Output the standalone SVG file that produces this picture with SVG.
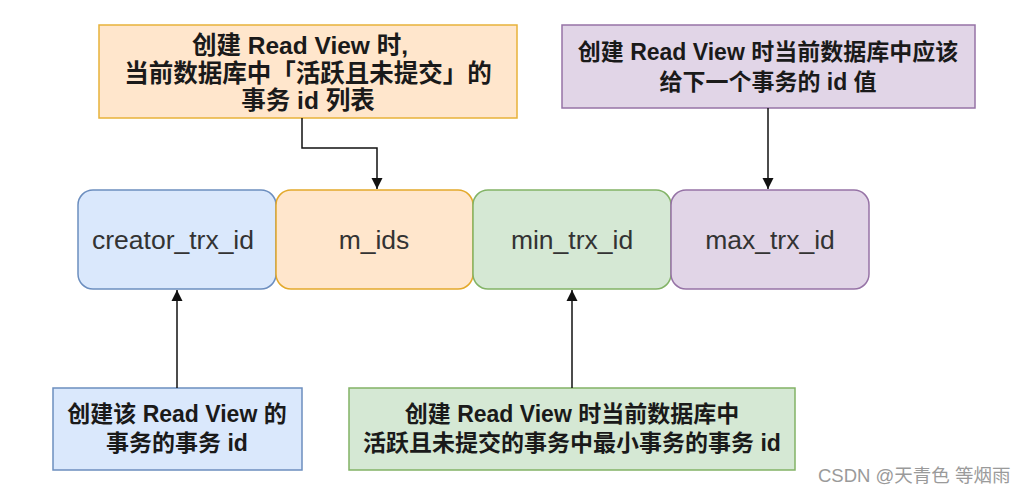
<svg xmlns="http://www.w3.org/2000/svg" width="1030" height="493" viewBox="0 0 1030 493">
<defs>
<style>
.lbl{font-family:"Liberation Sans",Arial,sans-serif;font-size:26.5px;fill:#333;text-anchor:middle}
.note{font-family:"Liberation Sans","Noto Sans CJK SC",sans-serif;font-size:23px;font-weight:bold;fill:#1a1a1a;text-anchor:middle}
.big{font-size:24.5px}
.edge{fill:none;stroke:#111;stroke-width:1.5}
.wm{font-family:"Liberation Sans","Noto Sans CJK SC",sans-serif;font-size:18.5px;fill:#9a9a9a}
</style>
<marker id="arr" markerUnits="userSpaceOnUse" markerWidth="12" markerHeight="12" viewBox="0 0 12 12" refX="11" refY="6" orient="auto">
<path d="M0,0.5 L11,6 L0,11.5 Z" fill="#111"/>
</marker>
</defs>
<rect width="1030" height="493" fill="#fff"/>

<g id="creator">
<rect x="78" y="190" width="198" height="99" rx="15" fill="#dae8fc" stroke="#6c8ebf" stroke-width="1.5"/>
<text class="lbl" x="173" y="249">creator_trx_id</text>
</g>
<g id="mids">
<rect x="276" y="190" width="197" height="99" rx="15" fill="#ffe6cc" stroke="#e3a92b" stroke-width="1.5"/>
<text class="lbl" x="374" y="249">m_ids</text>
</g>
<g id="min">
<rect x="473" y="190" width="198" height="99" rx="15" fill="#d5e8d4" stroke="#82b366" stroke-width="1.5"/>
<text class="lbl" x="572" y="249">min_trx_id</text>
</g>
<g id="max">
<rect x="671" y="190" width="198" height="99" rx="15" fill="#e1d5e7" stroke="#9673a6" stroke-width="1.5"/>
<text class="lbl" x="770" y="249">max_trx_id</text>
</g>

<g id="note-mids">
<rect x="99" y="25" width="418" height="93" fill="#ffe6cc" stroke="#e8b23a" stroke-width="1.5"/>
<text class="note big" x="300" y="54">创建 Read View 时,</text>
<text class="note big" x="308" y="82">当前数据库中「活跃且未提交」的</text>
<text class="note big" x="308" y="109">事务 id 列表</text>
</g>
<g id="note-max">
<rect x="562" y="25" width="413" height="83" fill="#e1d5e7" stroke="#9673a6" stroke-width="1.5"/>
<text class="note" x="768" y="60">创建 Read View 时当前数据库中应该</text>
<text class="note" x="768" y="90">给下一个事务的 id 值</text>
</g>
<g id="note-creator">
<rect x="53" y="388" width="249" height="82" fill="#dae8fc" stroke="#6c8ebf" stroke-width="1.5"/>
<text class="note" x="177" y="422">创建该 Read View 的</text>
<text class="note" x="177" y="451">事务的事务 id</text>
</g>
<g id="note-min">
<rect x="349" y="388" width="446" height="82" fill="#d5e8d4" stroke="#82b366" stroke-width="1.5"/>
<text class="note" x="572" y="422">创建 Read View 时当前数据库中</text>
<text class="note" x="572" y="451">活跃且未提交的事务中最小事务的事务 id</text>
</g>

<g id="connectors">
<path class="edge" d="M302,118 V148 H377 V189" marker-end="url(#arr)"/>
<path class="edge" d="M768,108 V189" marker-end="url(#arr)"/>
<path class="edge" d="M177,388 V290" marker-end="url(#arr)"/>
<path class="edge" d="M572,388 V290" marker-end="url(#arr)"/>
</g>

<text class="wm" x="818" y="482">CSDN @天青色 等烟雨</text>
</svg>
